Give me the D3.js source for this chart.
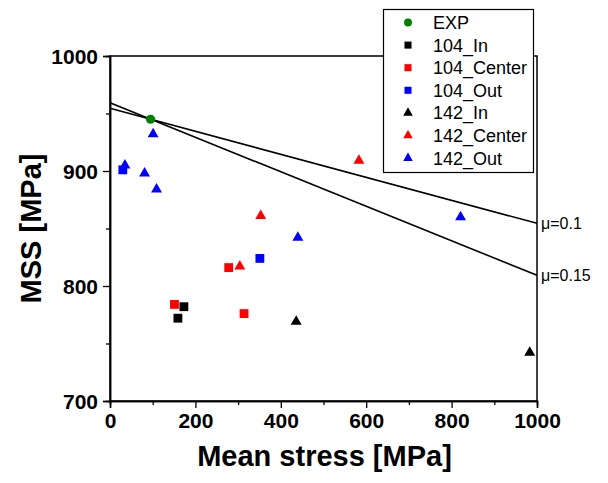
<!DOCTYPE html>
<html>
<head>
<meta charset="utf-8">
<script src="https://cdn.jsdelivr.net/npm/d3@7"></script>
<style>
  body { margin: 0; background: #fff; }
  svg { font-family: "Liberation Sans", Arial, sans-serif; }
</style>
</head>
<body>
<svg id="chart" width="608" height="483"></svg>
<script>
// series: [mean stress, MSS]
const expPts = [[95, 945]];
const in104 = [[173, 782], [159, 772]];
const center104 = [[151, 784], [278, 816], [314, 776]];
const out104 = [[30, 901], [351, 824]];
const in142 = [[436, 769], [983, 742]];
const center142 = [[304, 817], [353, 861], [583, 909]];
const out142 = [[35, 905], [101, 932], [81, 898], [109, 884], [440, 842], [821, 860]];

// friction lines through EXP point, endpoints at 0 and 1000
const muLabels = ['\u03bc=0.1', '\u03bc=0.15'];
const muLines = [
  [[0, 954.5], [1000, 854.5]],
  [[0, 959.3], [1000, 809.3]]
];

const xTicks = [0, 200, 400, 600, 800, 1000];
const yTicks = [700, 800, 900, 1000];

const series = [
  { name: 'EXP', data: expPts, shape: d3.symbolCircle, color: '#008000' },
  { name: '104_In', data: in104, shape: d3.symbolSquare, color: '#000000' },
  { name: '104_Center', data: center104, shape: d3.symbolSquare, color: '#ff0000' },
  { name: '104_Out', data: out104, shape: d3.symbolSquare, color: '#0000ff' },
  { name: '142_In', data: in142, shape: d3.symbolTriangle, color: '#000000' },
  { name: '142_Center', data: center142, shape: d3.symbolTriangle, color: '#ff0000' },
  { name: '142_Out', data: out142, shape: d3.symbolTriangle, color: '#0000ff' }
];

const svg = d3.select('#chart');
const x = d3.scaleLinear().domain([0, 1000]).range([110, 537]);
const y = d3.scaleLinear().domain([700, 1000]).range([401, 56]);

// frame
svg.append('rect')
  .attr('x', x(0)).attr('y', y(1000))
  .attr('width', x(1000) - x(0)).attr('height', y(700) - y(1000))
  .attr('fill', 'none').attr('stroke', '#000').attr('stroke-width', 1.5);

// minor ticks
const xAxisMinor = d3.axisBottom(x).tickValues(d3.range(100, 1000, 200)).tickSize(4).tickFormat('');
const yAxisMinor = d3.axisLeft(y).tickValues(d3.range(750, 1000, 100)).tickSize(4).tickFormat('');
svg.append('g').attr('transform', `translate(0,${y(700)})`).call(xAxisMinor);
svg.append('g').attr('transform', `translate(${x(0)},0)`).call(yAxisMinor);

const xAxis = d3.axisBottom(x).tickValues(xTicks).tickSize(7).tickPadding(5).tickFormat(d3.format('d'));
const yAxis = d3.axisLeft(y).tickValues(yTicks).tickSize(7).tickPadding(5).tickFormat(d3.format('d'));
svg.append('g').attr('class', 'xa').attr('transform', `translate(0,${y(700)})`).call(xAxis);
svg.append('g').attr('class', 'ya').attr('transform', `translate(${x(0)},0)`).call(yAxis);

svg.selectAll('.domain').attr('stroke-width', 1.5);
svg.selectAll('.tick line').attr('stroke-width', 1.3);
svg.selectAll('.xa text, .ya text')
  .attr('font-size', 21).attr('font-weight', 'bold')
  .attr('font-family', '"Liberation Sans", Arial, sans-serif').attr('fill', '#000');
svg.selectAll('.ya text').attr('dy', '0.36em');

// friction lines
const line = d3.line().x(d => x(d[0])).y(d => y(d[1]));
svg.selectAll('.mu').data(muLines).enter().append('path')
  .attr('class', 'mu')
  .attr('d', line)
  .attr('fill', 'none').attr('stroke', '#000').attr('stroke-width', 1.6);

svg.selectAll('.mulab').data(muLabels).enter().append('text')
  .attr('x', x(1000) + 4)
  .attr('y', (d, i) => y(muLines[i][1][1]) + 6)
  .attr('font-size', 16)
  .text(d => d);

// points
series.forEach(s => {
  const sz = s.shape === d3.symbolCircle ? 66 : (s.shape === d3.symbolSquare ? 78 : 52);
  svg.append('g').selectAll('path').data(s.data).enter().append('path')
    .attr('transform', d => `translate(${x(d[0])},${y(d[1])})`)
    .attr('d', d3.symbol().type(s.shape).size(sz))
    .attr('fill', s.color);
});

// legend
const leg = svg.append('g');
leg.append('rect')
  .attr('x', 383.5).attr('y', 9.5).attr('width', 150).attr('height', 163)
  .attr('fill', '#fff').attr('stroke', '#000').attr('stroke-width', 1.2);
series.forEach((s, i) => {
  const ly = 22.5 + i * 22.6;
  const sz = s.shape === d3.symbolCircle ? 50 : (s.shape === d3.symbolSquare ? 50 : 40);
  leg.append('path')
    .attr('transform', `translate(408,${ly})`)
    .attr('d', d3.symbol().type(s.shape).size(sz))
    .attr('fill', s.color);
  leg.append('text')
    .attr('x', 433).attr('y', ly + 6.5)
    .attr('font-size', 18)
    .text(s.name);
});

// axis titles
svg.append('text')
  .attr('x', (x(0) + x(1000)) / 2 + 1).attr('y', 466)
  .attr('text-anchor', 'middle')
  .attr('font-size', 29).attr('font-weight', 'bold')
  .text('Mean stress [MPa]');

svg.append('text')
  .attr('transform', `translate(41,${(y(700) + y(1000)) / 2}) rotate(-90)`)
  .attr('text-anchor', 'middle')
  .attr('font-size', 29).attr('font-weight', 'bold')
  .text('MSS [MPa]');
</script>
</body>
</html>
